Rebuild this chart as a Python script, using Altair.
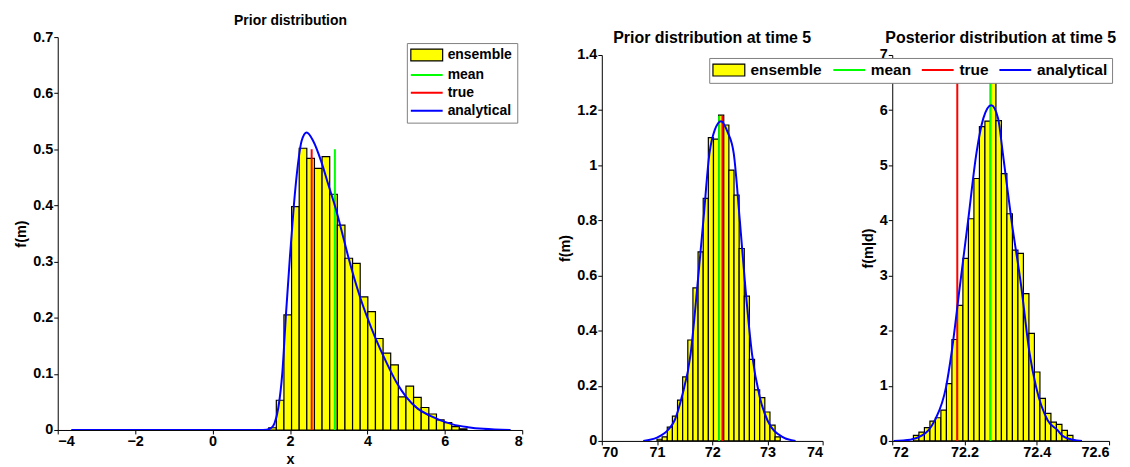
import altair as alt
import pandas as pd

FONT = "Liberation Sans"
SERIES = ["ensemble", "mean", "true", "analytical"]
SERIES_COLORS = ["#000000", "#00ff00", "#ff0000", "#0000ff"]

# ---------------- left panel: prior distribution ----------------
left_bin_start = 1.45
left_bin_width = 0.197
left_density = [0.004, 0.053, 0.205, 0.398, 0.502, 0.484, 0.466, 0.487, 0.42,
                0.365, 0.306, 0.297, 0.237, 0.211, 0.163, 0.137, 0.116, 0.059,
                0.078, 0.058, 0.040, 0.0285, 0.018, 0.013, 0.006, 0.002]
left_curve_x = [-3.65, 1.3, 1.5, 1.6, 1.7, 1.8, 1.9, 2.0, 2.1, 2.2, 2.3, 2.43,
                2.6, 2.8, 3.0, 3.2, 3.33, 3.5, 3.81, 4.0, 4.2, 4.5, 4.75, 5.0,
                5.3, 5.6, 6.2, 6.6, 7.0, 7.7]
left_curve_y = [0, 0, 0.003, 0.012, 0.04, 0.10, 0.21, 0.31, 0.40, 0.47, 0.515,
                0.53, 0.515, 0.48, 0.435, 0.39, 0.356, 0.31, 0.237, 0.20, 0.165,
                0.119, 0.085, 0.059, 0.038, 0.026, 0.010, 0.005, 0.002, 0]
left_mean = 3.16
left_true = 2.56
left_line_top = 0.50

# ---------------- middle panel: prior at time 5 ----------------
mid_bin_start = 71.0
mid_bin_width = 0.093
mid_density = [0.006, 0.015, 0.05, 0.09, 0.148, 0.232, 0.366, 0.555, 0.686,
               0.88, 1.10, 1.095, 1.182, 1.146, 0.982, 0.892, 0.698, 0.525,
               0.296, 0.185, 0.157, 0.105, 0.057, 0.015]
mid_curve_x = [70.75, 71.0, 71.2, 71.32, 71.45, 71.61, 71.73, 71.84, 71.95,
               72.05, 72.16, 72.28, 72.39, 72.50, 72.60, 72.72, 72.86, 73.0,
               73.27, 73.51]
mid_curve_y = [0, 0.012, 0.04, 0.075, 0.16, 0.317, 0.559, 0.80, 1.043, 1.13,
               1.16, 1.12, 1.043, 0.80, 0.559, 0.317, 0.16, 0.075, 0.015, 0]
mid_mean = 72.125
mid_true = 72.185
mid_line_top = 1.18

# ---------------- right panel: posterior at time 5 ----------------
right_bin_start = 72.0586
right_bin_width = 0.01522
right_density = [0.10, 0.16, 0.24, 0.36, 0.42, 0.56, 1.04, 1.84, 2.46, 3.31,
                 4.03, 4.76, 5.70, 5.80, 6.7, 5.81, 4.85, 4.12, 3.46, 3.40,
                 2.67, 1.95, 1.25, 0.77, 0.50, 0.34, 0.30, 0.19, 0.10]
right_curve_x = [72.004, 72.05, 72.08, 72.10, 72.118, 72.149, 72.164, 72.187,
                 72.21, 72.233, 72.252, 72.274, 72.293, 72.306, 72.33, 72.357,
                 72.38, 72.398, 72.43, 72.458, 72.47, 72.50, 72.525]
right_curve_y = [0, 0.02, 0.09, 0.19, 0.376, 0.98, 1.59, 2.80, 4.0, 5.22, 5.85,
                 6.09, 5.85, 5.22, 4.0, 2.80, 1.59, 0.98, 0.376, 0.19, 0.10,
                 0.02, 0]
right_mean = 72.272
right_true = 72.18
right_line_top = 6.7

RECT_PATH = "M-1,-0.75H3V0.75H-1Z"
LINE_PATH = "M-1,0H3"


def make_legend(x, y, direction, size, col_pad, row_pad, pad):
    kw = dict(
        title=None, orient="none", legendX=x, legendY=y, direction=direction,
        symbolType={"expr": "datum.value === 'ensemble' ? '%s' : '%s'" % (RECT_PATH, LINE_PATH)},
        symbolFillColor={"expr": "datum.value === 'ensemble' ? '#ffff00' : 'transparent'"},
        symbolStrokeWidth={"expr": "datum.value === 'ensemble' ? 1.2 : 2"},
        symbolSize=256,
        labelOffset=22, labelFont=FONT, labelFontSize=size,
        labelFontWeight="bold", labelColor="black", labelLimit=300,
        strokeColor="#808080", fillColor="white", padding=pad,
        rowPadding=row_pad, columnPadding=col_pad,
    )
    if direction == "horizontal":
        kw["columns"] = 4
    return alt.Legend(**kw)


def panel(density, bin_start, bin_w, curve_x, curve_y, mean_x, true_x, line_top,
          x_domain, x_ticks, x_format, x_range, y_domain, y_ticks, y_range,
          y_title, x_title, width, height, title, title_dy, title_dx, legend):
    n = len(density)
    bars = pd.DataFrame({
        "x0": [bin_start + i * bin_w for i in range(n)],
        "x1": [bin_start + (i + 1) * bin_w for i in range(n)],
        "f": density,
    })
    rules = pd.DataFrame({"series": ["mean", "true"], "x": [mean_x, true_x],
                          "top": [line_top, line_top]})
    curve = pd.DataFrame({"x": curve_x, "f": curve_y,
                          "series": ["analytical"] * len(curve_x)})

    xs = alt.Scale(domain=x_domain, range=x_range, nice=False, zero=False)
    ys = alt.Scale(domain=y_domain, range=y_range, nice=False, zero=False)
    xaxis = alt.Axis(values=x_ticks, format=x_format, title=x_title)
    yaxis = alt.Axis(values=y_ticks, format="~g", title=y_title)
    if legend is None:
        color = alt.Color("series:N", scale=alt.Scale(domain=SERIES, range=SERIES_COLORS),
                          legend=None)
    else:
        color = alt.Color("series:N", scale=alt.Scale(domain=SERIES, range=SERIES_COLORS),
                          legend=legend)

    bar = alt.Chart(bars).mark_rect(fill="#ffff00", stroke="#000000",
                                    strokeWidth=1.2, clip=True).encode(
        x=alt.X("x0:Q", scale=xs, axis=xaxis, title=x_title),
        x2="x1",
        y=alt.Y("f:Q", scale=ys, axis=yaxis, title=y_title),
        y2=alt.datum(0),
    )
    rule = alt.Chart(rules).mark_rule(strokeWidth=2, clip=True).encode(
        x=alt.X("x:Q", scale=xs, axis=xaxis, title=x_title),
        y=alt.Y("top:Q", scale=ys, axis=yaxis, title=y_title),
        y2=alt.datum(0),
        color=color,
    )
    line = alt.Chart(curve).mark_line(strokeWidth=2, interpolate="monotone",
                                      clip=True).encode(
        x=alt.X("x:Q", scale=xs, axis=xaxis, title=x_title),
        y=alt.Y("f:Q", scale=ys, axis=yaxis, title=y_title),
        color=color,
    )
    return alt.layer(bar, rule, line).properties(
        width=width, height=height,
        title=alt.TitleParams(text=title, font=FONT, fontSize=title_dy[1],
                              fontWeight="bold", color="black", anchor="middle",
                              dy=title_dy[0], dx=title_dx, offset=1),
    )


left = panel(left_density, left_bin_start, left_bin_width, left_curve_x,
             left_curve_y, left_mean, left_true, left_line_top,
             [-4, 8], [-4, -2, 0, 2, 4, 6, 8], "d", [0, 467],
             [0, 0.7], [0, 0.1, 0.2, 0.3, 0.4, 0.5, 0.6, 0.7], [395, 0],
             "f(m)", "x", 477, 395, "Prior distribution", (0, 14), -4.5,
             make_legend(351, 6, "vertical", 14, 10, 4, 5))

mid = panel(mid_density, mid_bin_start, mid_bin_width, mid_curve_x,
            mid_curve_y, mid_mean, mid_true, mid_line_top,
            [70, 74], [70, 71, 72, 73, 74], "d", [0, 222],
            [0, 1.4], [0, 0.2, 0.4, 0.6, 0.8, 1.0, 1.2, 1.4], [406, 18],
            "f(m)", None, 222, 406, "Prior distribution at time 5", (10, 16), 0,
            None)

right = panel(right_density, right_bin_start, right_bin_width, right_curve_x,
              right_curve_y, right_mean, right_true, right_line_top,
              [72, 72.6], [72, 72.2, 72.4, 72.6], "~g", [0, 218],
              [0, 7], [0, 1, 2, 3, 4, 5, 6, 7], [406, 18],
              "f(m|d)", None, 218, 406, "Posterior distribution at time 5",
              (10, 16), 0, make_legend(-184, 21, "horizontal", 15.5, 6, 2, 4))

chart = alt.hconcat(left, mid, right, spacing=70, bounds="flush").resolve_scale(
    x="independent", y="independent", color="independent"
).resolve_legend(color="independent").configure_view(stroke=None).configure_axis(
    grid=False, domainColor="black", tickColor="black", labelColor="black",
    titleColor="black", labelFont=FONT, titleFont=FONT, labelFontSize=14.5,
    titleFontSize=14.5, labelFontWeight="bold", titleFontWeight="bold",
    tickSize=4, labelPadding=1, domainWidth=1, tickWidth=1
).configure_axisY(titlePadding=4).configure_axisX(titlePadding=4)

chart.save("out.html", embed_options={"renderer": "svg", "actions": False})
